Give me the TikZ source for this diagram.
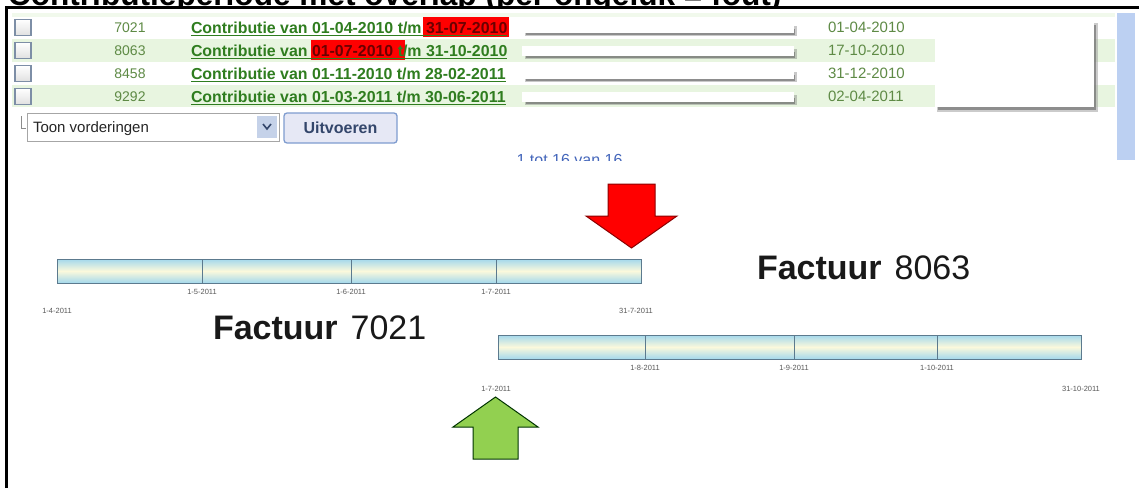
\documentclass[tikz,border=0pt]{standalone}
\usepackage{fontspec}
\setmainfont{Liberation Sans}
\definecolor{rowgreen}{HTML}{E8F5E0}
\definecolor{linkgreen}{HTML}{2F7D1F}
\definecolor{numgreen}{HTML}{5E8A45}
\definecolor{hlred}{HTML}{FF0000}
\definecolor{hltext}{HTML}{6B0000}
\definecolor{scrollblue}{HTML}{BCD0F2}
\definecolor{barblue}{HTML}{A4D8EC}
\definecolor{barcream}{HTML}{FBF9DC}
\definecolor{barline}{HTML}{5C7A8E}
\definecolor{arrowred}{HTML}{FF0000}
\definecolor{arrowgreen}{HTML}{92D050}
\definecolor{btnfill}{HTML}{E6E8F5}
\definecolor{btnline}{HTML}{7F9CCF}
\definecolor{btntext}{HTML}{33466B}
\definecolor{pagerblue}{HTML}{4466BB}
\definecolor{cbline}{HTML}{7D8EA6}
\begin{document}
\begin{tikzpicture}[x=1pt,y=-1pt,
  txt/.style={inner sep=0pt, outer sep=0pt},
  numtxt/.style={txt, font=\fontsize{14}{16}\selectfont, text=numgreen},
  linktxt/.style={txt, font=\bfseries\fontsize{15.9}{18}\selectfont, text=linkgreen},
  datetxt/.style={txt, font=\fontsize{15}{17}\selectfont, text=numgreen},
  ticktxt/.style={txt, font=\fontsize{7.5}{8}\selectfont, text=black!65},
  bigtxt/.style={txt, font=\fontsize{34}{36}\selectfont, text=black!90},
  tlbar/.style={draw=barline, line width=0.9pt, top color=barblue, bottom color=barblue, middle color=barcream},
  redact/.style={fill=white, draw=none},
  shadowbox/.style={fill=black!60, draw=none},
  checkbox/.style={draw=cbline, line width=1.2pt, top color=white, bottom color=black!12},
  bigarrow/.style={line width=1pt, line join=miter}
]
\useasboundingbox (0,0) rectangle (1139,488);
\fill[white] (0,0) rectangle (1139,488);
\begin{scope}
\clip (0,0) rectangle (1139,488);
% title (cut off at top)
\node[txt, anchor=base west, font=\bfseries\fontsize{31.6}{33}\selectfont] (title) at (8,5.5) {Contributieperiode met overlap (per ongeluk = fout)};
\fill[white] (0,8.5) rectangle (1139,13);
% frame
\draw[line width=3pt] (6.5,488) -- (6.5,7.5) -- (1139,7.5);
\end{scope}

% ---------- screenshot part ----------
\begin{scope}
\clip (8,9) rectangle (1139,160);
\fill[rowgreen!60] (12,13) rectangle (1115,17);
\fill[rowgreen] (12,39) rectangle (1115,62);
\fill[rowgreen] (12,85) rectangle (1115,107);
\fill[scrollblue] (1117,13) rectangle (1135,160);
% red highlights
\fill[hlred] (423,17) rectangle (509,37);
\fill[hlred] (311,40) rectangle (405,60);
% rows
\foreach \i/\num/\dt in {0/7021/01-04-2010, 1/8063/17-10-2010, 2/8458/31-12-2010, 3/9292/02-04-2011}{
  \pgfmathsetmacro{\cy}{27.5+23*\i}
  \draw[checkbox] (15,\cy-8) rectangle (31,\cy+8);
  \node[numtxt, anchor=base] (num\i) at (130,\cy+5) {\num};
  \node[datetxt, anchor=base west] (date\i) at (828,\cy+5.2) {\dt};
  \fill[shadowbox, opacity=0.35] (525,\cy-2) rectangle (797,\cy+8.5);
  \fill[shadowbox, opacity=0.6] (526,\cy+1) rectangle (795,\cy+7);
  \fill[redact] (522,\cy-5) rectangle (794,\cy+5);
}
\node[linktxt, anchor=base west] (link0) at (191,33) {\underline{Contributie van 01-04-2010 t/m {\color{hltext}31-07-2010}}};
\node[linktxt, anchor=base west] (link1) at (191,56) {\underline{Contributie van {\color{hltext}01-07-2010 }t/m 31-10-2010}};
\node[linktxt, anchor=base west] (link2) at (191,79) {\underline{Contributie van 01-11-2010 t/m 28-02-2011}};
\node[linktxt, anchor=base west] (link3) at (191,102) {\underline{Contributie van 01-03-2011 t/m 30-06-2011}};
% big redaction box
\fill[black!40, opacity=0.5] (937,23) rectangle (1098,112);
\fill[black!55, opacity=0.7] (938,25) rectangle (1096,109.5);
\fill[white] (935,21) rectangle (1094,107);
% controls
\draw[black!45, line width=1pt] (21,116) -- (21,128) -- (26,128);
\draw[black!35, fill=white, line width=1pt] (27,113) rectangle (279,141);
\node[txt, anchor=base west, font=\fontsize{15}{17}\selectfont, text=black!85] (combo) at (33,132) {Toon vorderingen};
\fill[btnline!45] (257,116) rectangle (277,138);
\draw[btntext, line width=1.6pt] (263,124) -- (267,129) -- (271,124);
\draw[btnline, fill=btnfill, line width=1.3pt, rounded corners=3pt] (284,113) rectangle (397,143);
\node[txt, font=\bfseries\fontsize{16}{18}\selectfont, text=btntext] (btn) at (340.5,128) {Uitvoeren};
\node[txt, anchor=base, font=\fontsize{16}{18}\selectfont, text=pagerblue] (pager) at (569.5,165) {1 tot 16 van 16};
\end{scope}

% ---------- red arrow ----------
\draw[bigarrow, fill=arrowred, draw=arrowred!55!black] (608,184) -- (655,184) -- (655,216) -- (677,216) -- (631.5,248) -- (586,216) -- (608,216) -- cycle;

% ---------- timeline 1 ----------
\path[tlbar] (57,259) rectangle (641,283);
\foreach \x in {202,351,496} \draw[barline, line width=0.9pt] (\x,259) -- (\x,283);
\node[ticktxt] (t1a) at (202,292) {1-5-2011};
\node[ticktxt] (t1b) at (351,292) {1-6-2011};
\node[ticktxt] (t1c) at (496,292) {1-7-2011};
\node[ticktxt] (t1s) at (57,311) {1-4-2011};
\node[ticktxt] (t1e) at (636,311) {31-7-2011};

\node[bigtxt, anchor=base west] (f7021) at (213,339) {\textbf{Factuur}\hspace{13pt}7021};
\node[bigtxt, anchor=base west] (f8063) at (757,279) {\textbf{Factuur}\hspace{13pt}8063};

% ---------- timeline 2 ----------
\path[tlbar] (498,335) rectangle (1081,359);
\foreach \x in {645,794,937} \draw[barline, line width=0.9pt] (\x,335) -- (\x,359);
\node[ticktxt] (t2a) at (645,368) {1-8-2011};
\node[ticktxt] (t2b) at (794,368) {1-9-2011};
\node[ticktxt] (t2c) at (937,368) {1-10-2011};
\node[ticktxt] (t2s) at (496,389) {1-7-2011};
\node[ticktxt] (t2e) at (1081,389) {31-10-2011};

% ---------- green arrow ----------
\draw[bigarrow, fill=arrowgreen, draw=black!80!green] (473,459) -- (518,459) -- (518,427) -- (538,427) -- (495.5,397) -- (453,427) -- (473,427) -- cycle;
\end{tikzpicture}
\end{document}
